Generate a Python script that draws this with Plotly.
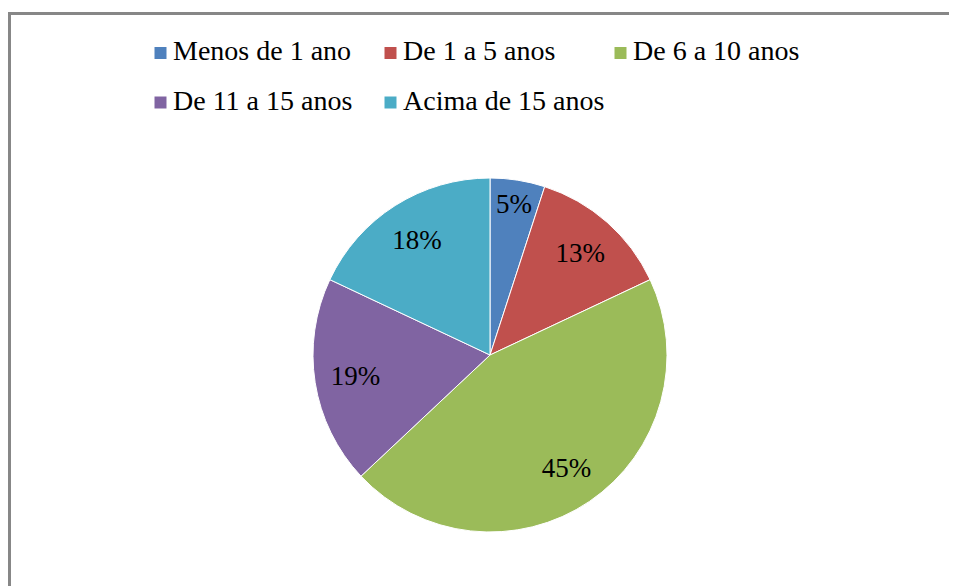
import plotly.graph_objects as go

categories = ["Menos de 1 ano", "De 1 a 5 anos", "De 6 a 10 anos", "De 11 a 15 anos", "Acima de 15 anos"]
values = [5, 13, 45, 19, 18]
colors = ["#4F81BD", "#C0504D", "#9BBB59", "#8064A2", "#4BACC6"]

W, H = 957, 586
OFF = 8                          # page body margin around the plot div
cx, cy, R = 490 - OFF, 355 - OFF, 177   # pie centre / radius in figure pixels

def px(fx):
    return fx / W

def py(fy):
    return (H - fy) / H

dom = dict(x=[px(cx - R), px(cx + R)], y=[py(cy + R), py(cy - R)])

base = go.Pie(
    labels=categories,
    values=values,
    sort=False,
    direction="clockwise",
    rotation=0,
    marker=dict(colors=colors, line=dict(color="white", width=1)),
    textinfo="none",
    domain=dom,
    showlegend=False,
    hovertemplate="%{label}: %{percent:.0%}<extra></extra>",
)

# transparent ring used only to place the percentage labels at ~3/4 radius
labels_ring = go.Pie(
    labels=categories,
    values=values,
    sort=False,
    direction="clockwise",
    rotation=0,
    hole=0.54,
    marker=dict(colors=["rgba(0,0,0,0)"] * len(values), line=dict(width=0)),
    texttemplate="%{percent:.0%}",
    textposition="inside",
    insidetextorientation="horizontal",
    textfont=dict(family="Liberation Serif", size=27, color="black"),
    domain=dom,
    showlegend=False,
    hoverinfo="skip",
)

fig = go.Figure([base, labels_ring])

# legend laid out as a 3-column grid (Excel style)
LEG_X0, LEG_COL_W = 154.5 - OFF, 230
LEG_Y0, LEG_ROW_H = 53 - OFF, 49.5
SW = 12
shapes = [
    dict(type="rect", xref="paper", yref="paper",
         x0=px(1.5), x1=1.01, y0=-0.05, y1=py(5.5),
         line=dict(color="#878787", width=3), fillcolor="rgba(0,0,0,0)", layer="below"),
]
annotations = []
for i, (name, col) in enumerate(zip(categories, colors)):
    r, c = divmod(i, 3)
    sx = LEG_X0 + c * LEG_COL_W
    sy = LEG_Y0 + r * LEG_ROW_H
    shapes.append(dict(type="rect", xref="paper", yref="paper",
                       x0=px(sx), x1=px(sx + SW), y0=py(sy + SW / 2), y1=py(sy - SW / 2),
                       line=dict(width=0), fillcolor=col))
    annotations.append(dict(xref="paper", yref="paper", x=px(sx + SW + 4.5), y=py(sy - 2),
                            xanchor="left", yanchor="middle", showarrow=False, text=name,
                            font=dict(family="Liberation Serif", size=28, color="black")))

fig.update_layout(
    width=W, height=H,
    margin=dict(l=0, r=0, t=0, b=0),
    paper_bgcolor="white",
    plot_bgcolor="white",
    font=dict(family="Liberation Serif", size=28, color="black"),
    showlegend=False,
    shapes=shapes,
    annotations=annotations,
)

fig.write_html("out.html")
